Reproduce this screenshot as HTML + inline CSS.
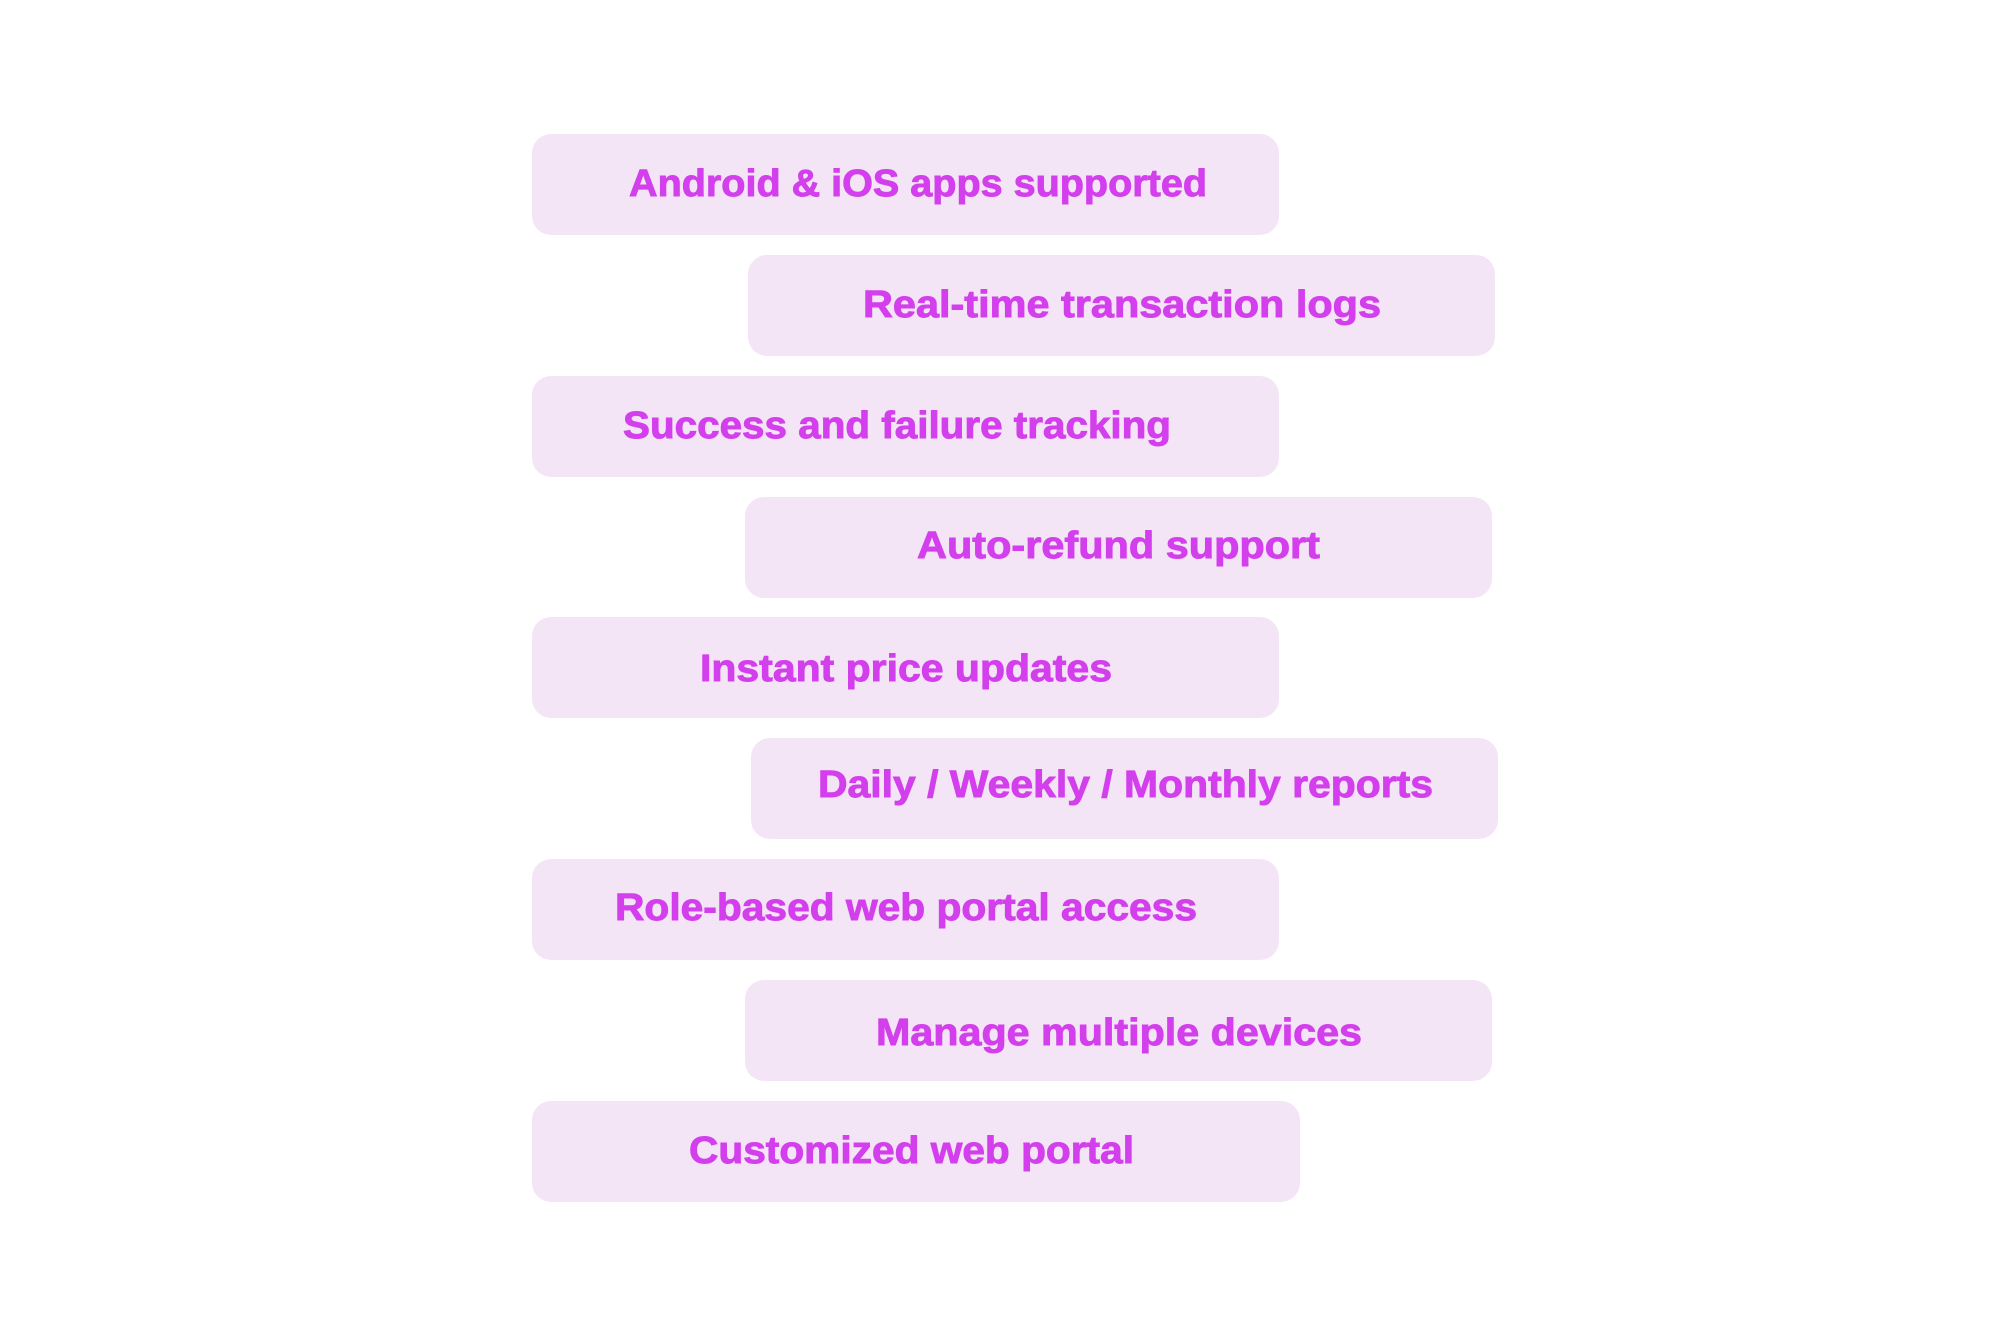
<!DOCTYPE html>
<html>
<head>
<meta charset="utf-8">
<style>
  html, body { margin: 0; padding: 0; background: #ffffff; }
  body { width: 1999px; height: 1336px; overflow: hidden; }
  svg { display: block; }
  .b { fill: #f3e5f5; }
  .t { fill: #d33fec; stroke: #d33fec; stroke-width: 0.9px; font-family: "Liberation Sans", "DejaVu Sans", sans-serif; font-weight: bold; font-size: 38px; }
</style>
</head>
<body>
<svg width="1999" height="1336" viewBox="0 0 1999 1336" xmlns="http://www.w3.org/2000/svg">
  <rect x="0" y="0" width="1999" height="1336" fill="#ffffff"/>

  <rect class="b" x="532" y="134" width="747" height="101" rx="19" ry="19"/>
  <text class="t" x="629" y="196" textLength="578" lengthAdjust="spacingAndGlyphs">Android &amp; iOS apps supported</text>

  <rect class="b" x="748" y="255" width="747" height="101" rx="19" ry="19"/>
  <text class="t" x="863" y="317" textLength="518" lengthAdjust="spacingAndGlyphs">Real-time transaction logs</text>

  <rect class="b" x="532" y="376" width="747" height="101" rx="19" ry="19"/>
  <text class="t" x="623" y="438" textLength="548" lengthAdjust="spacingAndGlyphs">Success and failure tracking</text>

  <rect class="b" x="745" y="497" width="747" height="101" rx="19" ry="19"/>
  <text class="t" x="917" y="558" textLength="403" lengthAdjust="spacingAndGlyphs">Auto-refund support</text>

  <rect class="b" x="532" y="617" width="747" height="101" rx="19" ry="19"/>
  <text class="t" x="700" y="681" textLength="412" lengthAdjust="spacingAndGlyphs">Instant price updates</text>

  <rect class="b" x="751" y="738" width="747" height="101" rx="19" ry="19"/>
  <text class="t" x="818" y="797" textLength="615" lengthAdjust="spacingAndGlyphs">Daily / Weekly / Monthly reports</text>

  <rect class="b" x="532" y="859" width="747" height="101" rx="19" ry="19"/>
  <text class="t" x="615" y="920" textLength="582" lengthAdjust="spacingAndGlyphs">Role-based web portal access</text>

  <rect class="b" x="745" y="980" width="747" height="101" rx="19" ry="19"/>
  <text class="t" x="876" y="1045" textLength="486" lengthAdjust="spacingAndGlyphs">Manage multiple devices</text>

  <rect class="b" x="532" y="1101" width="768" height="101" rx="19" ry="19"/>
  <text class="t" x="689" y="1163" textLength="445" lengthAdjust="spacingAndGlyphs">Customized web portal</text>
</svg>
</body>
</html>
